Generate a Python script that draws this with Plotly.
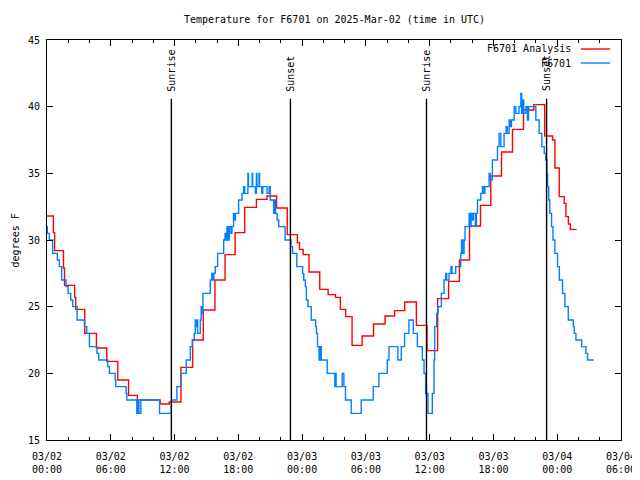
import plotly.graph_objects as go

# ---------------- data (hours since 2025-03-02 00:00 UTC) ----------------
tick_hours = [0, 6, 12, 18, 24, 30, 36, 42, 48, 54]
tick_dates = ["03/02", "03/02", "03/02", "03/02", "03/03", "03/03", "03/03", "03/03", "03/04", "03/04"]
tick_times = ["00:00", "06:00", "12:00", "18:00", "00:00", "06:00", "12:00", "18:00", "00:00", "06:00"]
minor_tick_hours = [2, 4, 8, 10, 14, 16, 20, 22, 26, 28, 32, 34, 38, 40, 44, 46, 50, 52]

sun_hours = [11.7, 22.9, 35.7, 47.0]
sun_labels = ["Sunrise", "Sunset", "Sunrise", "Sunset"]

# F6701 Analysis (red)
red_hours = [0.0, 0.6, 0.72, 1.55, 1.65, 2.6, 2.7, 3.55, 4.65, 5.62, 6.66, 7.67, 8.5,
             10.65, 11.5, 12.6, 13.7, 14.7, 15.8, 16.75, 17.7, 18.6, 19.7, 20.7, 21.6,
             22.6, 23.55, 23.75, 24.1, 24.65, 25.66, 26.45, 27.14, 27.6, 28.1, 28.7,
             29.65, 30.72, 31.8, 32.7, 33.65, 34.75, 35.75, 36.75, 37.78, 38.8, 39.75,
             40.78, 41.75, 42.76, 43.79, 44.83, 45.8, 46.82, 47.56, 47.78, 48.19, 48.66,
             48.82, 49.05, 49.23, 49.83]
red_temps = [31.8, 30.55, 29.2, 27.9, 26.6, 25.7, 24.8, 23.0, 21.9, 20.9, 19.5, 18.35, 18.0,
             17.7, 17.85, 20.45, 22.5, 24.75, 27.0, 28.9, 30.55, 32.45, 33.05, 33.3, 32.4,
             30.4, 29.8, 29.3, 28.9, 27.6, 26.3, 25.9, 25.7, 24.8, 24.25, 22.1,
             22.8, 23.7, 24.3, 24.7, 25.35, 23.6, 21.7, 25.6, 26.9, 28.5, 31.05,
             32.6, 34.8, 36.6, 38.3, 39.75, 40.15, 37.8, 37.5, 35.4, 33.25, 32.75,
             31.75, 31.2, 30.8, 30.8]

# F6701 observations (blue)
blue_hours = [0.00, 0.03, 0.22, 0.53, 0.97, 1.16, 1.38, 1.79, 1.98, 2.23, 2.42, 2.83, 3.52,
              3.74, 3.99, 4.70, 4.87, 5.72, 5.87, 6.41, 6.47, 7.44, 7.51, 8.45, 8.55, 8.65,
              8.83, 10.59, 11.69, 12.22, 12.60,
              13.10, 13.48, 13.67, 13.85, 13.95, 14.05, 14.10, 14.17, 14.42, 14.50, 14.58,
              14.67, 15.36, 15.50, 15.60, 15.70, 15.83, 16.05, 16.62, 16.75, 16.85, 16.93,
              17.05, 17.15, 17.30, 17.40, 17.55, 17.65, 17.72, 18.03,
              18.35, 18.50, 18.60, 18.90, 18.95, 19.30, 19.35, 19.60, 19.70, 19.75, 19.95,
              20.00, 20.20, 20.30, 20.70, 20.90, 21.00, 21.33, 21.40, 21.50, 21.65, 21.80,
              22.40, 22.95, 23.10, 23.50, 24.05, 24.15, 24.30, 24.40, 24.55, 24.86, 25.27,
              25.35, 25.45, 25.60, 25.70, 25.80, 26.36,
              27.08, 27.12, 27.20, 27.77, 27.93, 28.08, 28.62, 29.56, 30.69, 31.22, 32.01,
              32.17, 33.01, 33.33, 33.64, 34.05, 34.46, 34.84, 35.31, 35.47, 35.62, 35.84,
              36.25, 36.41, 36.47, 36.66, 36.78, 37.10,
              37.35, 37.50, 37.60, 37.82, 38.00, 38.10, 38.45, 38.92, 39.00, 39.10, 39.24,
              39.33, 39.71, 39.80, 39.90, 40.00, 40.10, 40.30, 40.40, 40.50, 40.81, 40.96,
              41.10, 41.20, 41.59, 41.70, 41.90, 42.38, 42.53, 42.69, 43.00, 43.20, 43.30,
              43.48, 43.60, 43.70, 43.95,
              44.10, 44.27, 44.40, 44.58, 44.65, 44.73, 44.85, 45.05, 45.20, 45.30, 45.99,
              46.30, 46.55, 46.78, 46.93, 47.03, 47.09, 47.20, 47.30, 47.47, 47.60, 47.78,
              48.03, 48.20, 48.50, 48.72, 49.04, 49.51, 49.60, 49.76, 50.30, 50.70, 50.86,
              51.43]
blue_temps = [31, 30.5, 30, 29, 28.5, 28, 27, 26.5, 26, 25.5, 25, 24, 23.5,
              23, 22, 21.5, 21, 20.5, 20, 19.5, 19, 18.5, 18, 17, 18, 17,
              18, 17, 18, 19, 20,
              21, 22, 22.5, 23, 24, 23.5, 24, 23, 24, 25, 24.5,
              26, 27, 27.5, 27, 27.5, 28, 29, 30, 30.5, 30, 31,
              30, 31, 30.5, 31, 32, 31.5, 32, 33,
              33.5, 34, 33.5, 35, 34, 35, 34, 33.5, 35, 34, 35,
              34, 33.5, 34, 33.5, 34, 33, 32, 33, 32, 31.5, 31,
              30, 29.5, 29, 28, 27.5, 27, 26.5, 25.5, 25, 24, 23.5,
              23, 22, 21, 22, 21, 20,
              19, 20, 19, 20, 19, 18, 17, 18, 19, 20, 21,
              22, 21, 22, 23, 24, 23, 22, 21, 20, 18.5, 17,
              18.5, 21, 23.5, 24.5, 25, 26,
              27, 27.5, 27, 27.5, 28, 27.5, 28, 29, 30, 29, 30,
              31, 32, 31, 32, 31.5, 32, 31, 32, 33, 33.5, 34,
              33.5, 34, 35, 34.5, 36, 37, 38, 37, 38, 38.5, 38,
              39, 38.5, 39, 40,
              39.5, 39.5, 40, 41, 39.5, 40.5, 39.5, 40, 39, 40, 39,
              38, 37, 36.5, 36, 35, 34, 33, 32, 31, 30, 29,
              28, 27, 26, 25, 24, 23.5, 23, 22.5, 22, 21.5, 21,
              21]

series_names = ["F6701 Analysis", "F6701"]
series_colors = ["#ff0000", "#0080ff"]

# ---------------- figure ----------------
FONT = "DejaVu Sans Mono"
fig = go.Figure()
fig.add_trace(go.Scatter(x=red_hours, y=red_temps, mode="lines", line_shape="hv",
                         line=dict(color=series_colors[0], width=1.4),
                         name=series_names[0], showlegend=False))
fig.add_trace(go.Scatter(x=blue_hours, y=blue_temps, mode="lines", line_shape="hv",
                         line=dict(color=series_colors[1], width=1.4),
                         name=series_names[1], showlegend=False))
# invisible trace so the second (time-row) x axis is drawn
fig.add_trace(go.Scatter(x=[tick_hours[0], tick_hours[-1]], y=[15, 15], xaxis="x2", yaxis="y",
                         mode="lines", line=dict(width=0), hoverinfo="skip", showlegend=False))

shapes = []
annotations = []
for h, lab in zip(sun_hours, sun_labels):
    shapes.append(dict(type="line", xref="x", yref="y", x0=h, x1=h, y0=15, y1=40.6,
                       line=dict(color="black", width=1.4)))
    annotations.append(dict(x=h, y=41.0, xref="x", yref="y", text=lab, textangle=-90,
                            showarrow=False, xanchor="center", yanchor="bottom",
                            font=dict(family=FONT, size=10, color="black")))

# legend (gnuplot style: text right-aligned, sample to the right)
legend_y = [0.9775, 0.9425]
for name, col, ly in zip(series_names, series_colors, legend_y):
    annotations.append(dict(x=0.9164, y=ly, xref="paper", yref="paper", text=name,
                            showarrow=False, xanchor="right", yanchor="middle",
                            font=dict(family=FONT, size=10, color="black")))
    shapes.append(dict(type="line", xref="paper", yref="paper", x0=0.930, x1=0.981,
                       y0=ly, y1=ly, line=dict(color=col, width=1.4)))

annotations.append(dict(x=0.5, y=1.0525, xref="paper", yref="paper",
                        text="Temperature for F6701 on 2025-Mar-02 (time in UTC)",
                        showarrow=False, xanchor="center", yanchor="middle",
                        font=dict(family=FONT, size=10, color="black")))
annotations.append(dict(x=-0.055, y=0.5, xref="paper", yref="paper", text="degrees F",
                        textangle=-90, showarrow=False, xanchor="center", yanchor="middle",
                        font=dict(family=FONT, size=10, color="black")))

# The page body adds an 8px offset; margins compensate so the plot area
# lands at 47..621 x 40..440 of the 640x480 window.
fig.update_layout(
    width=640, height=480,
    margin=dict(l=39, r=27, t=32, b=48, pad=0),
    paper_bgcolor="white", plot_bgcolor="white",
    font=dict(family=FONT, size=10, color="black"),
    shapes=shapes, annotations=annotations,
    showlegend=False,
    xaxis=dict(
        range=[0, 54], tickmode="array", tickvals=tick_hours, ticktext=tick_dates,
        ticks="inside", ticklen=6, tickwidth=1, tickcolor="black",
        showline=True, linecolor="black", linewidth=1, mirror="ticks",
        showgrid=False, zeroline=False, ticklabelstandoff=7, automargin=False,
        minor=dict(tickmode="array", tickvals=minor_tick_hours, ticks="inside",
                   ticklen=3, tickwidth=1, tickcolor="black", showgrid=False),
    ),
    xaxis2=dict(
        range=[0, 54], overlaying="x", anchor="y", side="bottom",
        tickmode="array", tickvals=tick_hours, ticktext=tick_times,
        ticks="", showline=False, showgrid=False, zeroline=False,
        ticklabelstandoff=22, automargin=False,
        tickfont=dict(family=FONT, size=10, color="black"),
    ),
    yaxis=dict(
        range=[15, 45], tickmode="linear", tick0=15, dtick=5,
        ticks="inside", ticklen=6, tickwidth=1, tickcolor="black",
        showline=True, linecolor="black", linewidth=1, mirror="ticks",
        showgrid=False, zeroline=False, ticklabelstandoff=4, automargin=False,
    ),
)

fig.write_html("out.html")
